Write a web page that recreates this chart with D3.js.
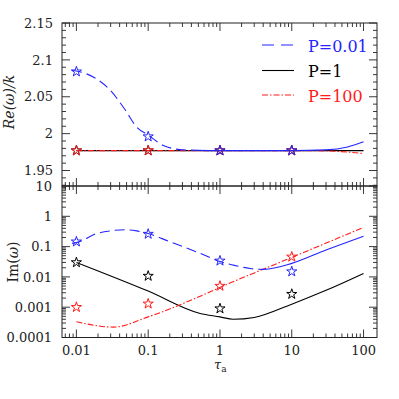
<!DOCTYPE html>
<html><head><meta charset="utf-8">
<script src="https://cdn.jsdelivr.net/npm/d3@7/dist/d3.min.js"></script>
<style>body{margin:0;background:#fff}svg{display:block}text{font-family:"DejaVu Serif",serif}</style>
</head><body><svg id="c" width="399" height="399"></svg>
<script>
// ---- data ----
const seriesNames = ["P=0.01", "P=1", "P=100"];
const seriesColors = ["#2424ff", "#000000", "#ff1a1a"];
const starTau = [0.01, 0.1, 1, 10];

// top panel Re(w)/k
const reBlueX = [0.0087,0.01,0.0192,0.0295,0.048,0.069,0.1,0.163,0.31,1,10,30,60,100];
const reBlueY = [2.086,2.085,2.074,2.059,2.032,2.009,1.998,1.984,1.978,1.977,1.977,1.978,1.982,1.989];
const reBlackX = [0.01,1,10,30,100];
const reBlackY = [1.977,1.977,1.977,1.977,1.977];
const reRedX = [0.01,1,10,30,60,100];
const reRedY = [1.977,1.977,1.977,1.9765,1.975,1.973];
const reStarBlue = [2.084,1.996,1.977,1.977];
const reStarBlack = [1.977,1.977,1.977,1.977];
const reStarRed = [1.977,1.977,1.977,1.977];

// bottom panel Im(w)
const imBlueX = [0.0087,0.01,0.0192,0.0295,0.048,0.069,0.1,0.2,0.53,1,1.53,2.62,4,10,30,100];
const imBlueY = [0.128,0.135,0.27,0.33,0.36,0.33,0.27,0.145,0.06,0.032,0.0245,0.019,0.0177,0.028,0.077,0.22];
const imBlackX = [0.01,0.1,0.53,1,1.53,3,10,30,100];
const imBlackY = [0.030,0.0034,0.00062,0.00048,0.0004,0.00046,0.00126,0.0036,0.013];
const imRedX = [0.01,0.0328,0.1,0.53,1,10,100];
const imRedY = [0.00033,0.00022,0.00048,0.0023,0.0045,0.044,0.43];
const imStarBlue = [0.145,0.26,0.034,0.015];
const imStarBlack = [0.030,0.0107,0.0009,0.0027];
const imStarRed = [0.001,0.0013,0.005,0.046];

const xTickVals = [0.01,0.1,1,10,100];
const xTickLabels = ["0.01","0.1","1","10","100"];
const reTickVals = [1.95,2,2.05,2.1,2.15];
const reTickLabels = ["1.95","2","2.05","2.1","2.15"];
const imTickVals = [0.0001,0.001,0.01,0.1,1,10];
const imTickLabels = ["0.0001","0.001","0.01","0.1","1","10"];

// ---- layout ----
const L = 62, R = 377, T = 23, M = 186, B = 337.5;
const svg = d3.select("#c");
const x = d3.scaleLog().domain([0.0063, 154]).range([L, R]);
const yRe = d3.scaleLinear().domain([1.929, 2.15]).range([M, T]);
const yIm = d3.scaleLog().domain([0.0001, 10]).range([B, M]);

const dashes = ["10,5", null, "6,2,1.5,2"];
// the blue curve turns solid beyond these tau values (as in the reference)
const blueSolidFromTop = 0.5, blueSolidFromBot = 4.2;

const defs = svg.append("defs");
function clip(id, x0, x1) {
  defs.append("clipPath").attr("id", id).append("rect")
    .attr("x", x0).attr("y", 0).attr("width", x1 - x0).attr("height", 399);
}
clip("cTopL", 0, x(blueSolidFromTop)); clip("cTopR", x(blueSolidFromTop), 399);
clip("cBotL", 0, x(blueSolidFromBot)); clip("cBotR", x(blueSolidFromBot), 399);

const xMinor = [];
for (let e = -3; e <= 2; e++) for (let k = 1; k <= 9; k++) {
  const v = k * Math.pow(10, e);
  if (v >= x.domain()[0] && v <= x.domain()[1]) xMinor.push({v, major: k === 1});
}
const imMinor = [];
for (let e = -4; e <= 1; e++) for (let k = 1; k <= 9; k++) {
  const v = k * Math.pow(10, e);
  if (v >= 0.0001 && v <= 10.0001) imMinor.push({v, major: k === 1});
}
const reMinor = [];
for (let i = 0; i <= 22; i++) {
  const v = +(1.93 + i * 0.01).toFixed(2);
  reMinor.push({v, major: Math.abs(Math.round(v * 20) - v * 20) < 1e-6});
}

const gT = svg.append("g");
function tickSet(y0, y1) {
  xMinor.forEach(t => {
    const len = t.major ? 8 : 4;
    const px = x(t.v);
    gT.append("line").attr("x1", px).attr("x2", px).attr("y1", y0).attr("y2", y0 + len);
    gT.append("line").attr("x1", px).attr("x2", px).attr("y1", y1).attr("y2", y1 - len);
  });
}
tickSet(T, M);
tickSet(M, B);
reMinor.forEach(t => {
  const len = t.major ? 8 : 4, py = yRe(t.v);
  if (py < T - 0.5 || py > M + 0.5) return;
  gT.append("line").attr("x1", L).attr("x2", L + len).attr("y1", py).attr("y2", py);
  gT.append("line").attr("x1", R).attr("x2", R - len).attr("y1", py).attr("y2", py);
});
imMinor.forEach(t => {
  const len = t.major ? 8 : 4, py = yIm(t.v);
  gT.append("line").attr("x1", L).attr("x2", L + len).attr("y1", py).attr("y2", py);
  gT.append("line").attr("x1", R).attr("x2", R - len).attr("y1", py).attr("y2", py);
});
gT.selectAll("line").attr("stroke", "#222").attr("stroke-width", 0.9);
svg.append("rect").attr("x", L).attr("y", T).attr("width", R - L).attr("height", M - T)
  .attr("fill", "none").attr("stroke", "#222").attr("stroke-width", 1);
svg.append("rect").attr("x", L).attr("y", M).attr("width", R - L).attr("height", B - M)
  .attr("fill", "none").attr("stroke", "#222").attr("stroke-width", 1);

reTickVals.forEach((v, i) => svg.append("text").attr("x", 53).attr("y", yRe(v)).attr("dy", "0.36em")
  .attr("text-anchor", "end").attr("font-size", 13).attr("fill", "#222").text(reTickLabels[i]));
imTickVals.forEach((v, i) => svg.append("text").attr("x", 52).attr("y", yIm(v)).attr("dy", "0.36em")
  .attr("text-anchor", "end").attr("font-size", 13).attr("fill", "#222").text(imTickLabels[i]));
xTickVals.forEach((v, i) => svg.append("text").attr("x", x(v)).attr("y", 355)
  .attr("text-anchor", "middle").attr("font-size", 13).attr("fill", "#222").text(xTickLabels[i]));

const t1 = svg.append("text").attr("transform", "translate(14,102) rotate(-90)")
  .attr("text-anchor", "middle").attr("font-size", 14).attr("fill", "#222").attr("font-style", "italic");
t1.text("Re(ω)/k");
const t2 = svg.append("text").attr("transform", "translate(17.5,262) rotate(-90)")
  .attr("text-anchor", "middle").attr("font-size", 14).attr("fill", "#222");
t2.append("tspan").text("Im(");
t2.append("tspan").attr("font-style", "italic").text("ω");
t2.append("tspan").text(")");
const t3 = svg.append("text").attr("x", 214).attr("y", 368.5).attr("font-size", 13).attr("fill", "#222");
t3.append("tspan").attr("font-style", "italic").text("τ");
t3.append("tspan").attr("font-size", 9).attr("dy", 3.5).text("a");

const gTop = svg.append("g");
const gBot = svg.append("g");
function drawLine(parent, xs, ys, yScale, i, dash, clipId) {
  const pts = xs.map((v, k) => [v, ys[k]]);
  const p = parent.append("path").datum(pts)
    .attr("d", d3.line().x(d => x(d[0])).y(d => yScale(d[1])).curve(d3.curveMonotoneX))
    .attr("fill", "none").attr("stroke", seriesColors[i]).attr("stroke-width", 1.1)
    .attr("stroke-dasharray", dash);
  if (clipId) p.attr("clip-path", `url(#${clipId})`);
}
drawLine(gTop, reBlackX, reBlackY, yRe, 1, dashes[1]);
drawLine(gTop, reRedX, reRedY, yRe, 2, dashes[2]);
drawLine(gTop, reBlueX, reBlueY, yRe, 0, dashes[0], "cTopL");
drawLine(gTop, reBlueX, reBlueY, yRe, 0, null, "cTopR");
drawLine(gBot, imBlackX, imBlackY, yIm, 1, dashes[1]);
drawLine(gBot, imRedX, imRedY, yIm, 2, dashes[2]);
drawLine(gBot, imBlueX, imBlueY, yIm, 0, dashes[0], "cBotL");
drawLine(gBot, imBlueX, imBlueY, yIm, 0, null, "cBotR");

const star = d3.symbol().type(d3.symbolStar).size(32);
function drawStars(ys, yScale, i) {
  ys.forEach((v, k) => svg.append("path").attr("d", star())
    .attr("transform", `translate(${x(starTau[k])},${yScale(v)})`)
    .attr("fill", "none").attr("stroke", seriesColors[i]).attr("stroke-width", 1));
}
drawStars(reStarBlack, yRe, 1); drawStars(reStarRed, yRe, 2); drawStars(reStarBlue, yRe, 0);
drawStars(imStarBlack, yIm, 1); drawStars(imStarRed, yIm, 2); drawStars(imStarBlue, yIm, 0);

const legY = [45, 70.5, 95];
const legDash = ["12,7", null, "6,2,1.5,2"];
seriesNames.forEach((n, i) => {
  svg.append("line").attr("x1", 262).attr("x2", 294).attr("y1", legY[i]).attr("y2", legY[i])
    .attr("stroke", seriesColors[i]).attr("stroke-width", 1.1).attr("stroke-dasharray", legDash[i]);
  svg.append("text").attr("x", 308).attr("y", legY[i] + 6.5).attr("font-size", 16)
    .attr("fill", seriesColors[i]).text(n);
});
</script></body></html>
